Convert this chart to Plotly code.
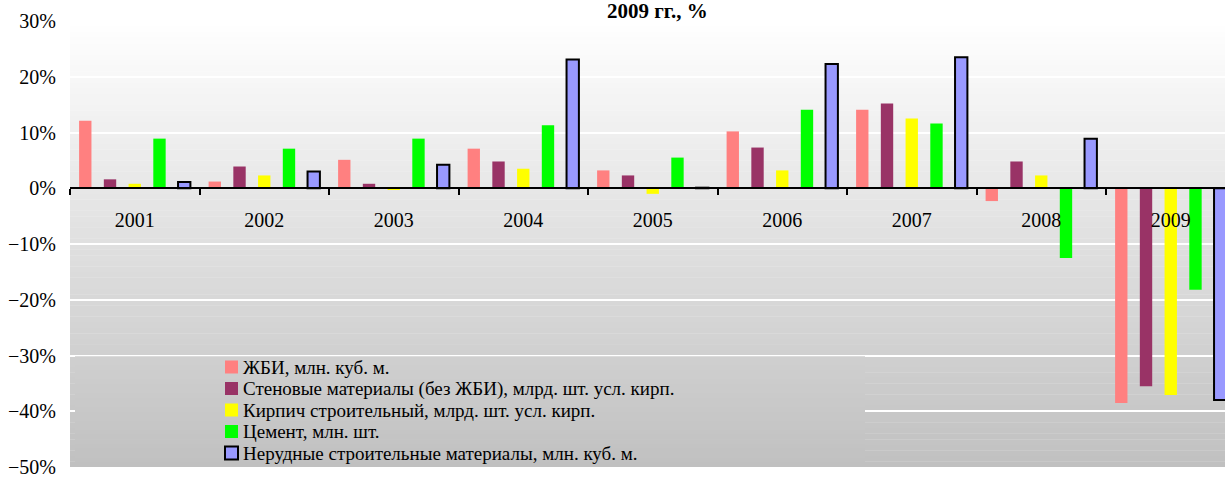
import plotly.graph_objects as go

years = ["2001", "2002", "2003", "2004", "2005", "2006", "2007", "2008", "2009"]

names = [
    "ЖБИ, млн. куб. м.",
    "Стеновые материалы (без ЖБИ), млрд. шт. усл. кирп.",
    "Кирпич строительный, млрд. шт. усл. кирп.",
    "Цемент, млн. шт.",
    "Нерудные строительные материалы, млн. куб. м.",
]

zhbi = [12.1, 1.2, 5.1, 7.1, 3.2, 10.2, 14.1, -2.3, -38.5]
stenovye = [1.6, 3.9, 0.8, 4.8, 2.3, 7.3, 15.2, 4.8, -35.5]
kirpich = [0.8, 2.3, -0.2, 3.5, -1.0, 3.2, 12.5, 2.3, -37.1]
cement = [8.9, 7.1, 8.9, 11.3, 5.5, 14.1, 11.6, -12.5, -18.2]
nerudnye = [1.1, 3.0, 4.2, 23.1, 0.1, 22.3, 23.5, 8.9, -38.0]

series = [zhbi, stenovye, kirpich, cement, nerudnye]
colors = ["#FF8080", "#993366", "#FFFF00", "#00FF00", "#9999FF"]
outline = [0, 0, 0, 0, 2]

W, H = 1225, 479
L, R, T, B = 70, 0, 21, 12
YMIN, YMAX = -50, 30
CAT_W = 129.5
FONT = "Liberation Serif, Times New Roman, serif"


def px_x(p):
    return (p - L) / (W - L - R)


def px_y(p):
    return (H - B - p) / (H - T - B)


def grey(v):
    # background gradient: white at top -> #c0c0c0 at bottom
    f = (YMAX - v) / (YMAX - YMIN)
    c = int(round(255 - f * 63))
    return f"rgb({c},{c},{c})"


fig = go.Figure()
for name, vals, col, lw in zip(names, series, colors, outline):
    fig.add_trace(go.Bar(
        x=years, y=vals, name=name,
        marker=dict(color=col, line=dict(color="black", width=lw)),
        showlegend=False,
    ))

shapes = []
# plot background gradient
n = 80
step = (YMAX - YMIN) / n
for i in range(n):
    y1 = YMAX - i * step
    shapes.append(dict(type="rect", xref="paper", yref="y", x0=0, x1=1,
                       y0=y1 - step - 0.05, y1=y1, fillcolor=grey(y1 - step / 2),
                       line_width=0, layer="below"))
# legend box (hides gridlines)
lx0 = (75 - L) / CAT_W - 0.5
lx1 = (865 - L) / CAT_W - 0.5
m = 24
top = -30.15
step2 = (top - YMIN) / m
for i in range(m):
    y1 = top - i * step2
    shapes.append(dict(type="rect", xref="x", yref="y", x0=lx0, x1=lx1,
                       y0=y1 - step2 - 0.05, y1=y1, fillcolor=grey(y1 - step2 / 2),
                       line_width=0, layer="between"))

annotations = []
# hand-made legend
for i, (name, col, lw) in enumerate(zip(names, colors, outline)):
    cy = 367 + 21.5 * i
    shapes.append(dict(type="rect", xref="paper", yref="paper",
                       x0=px_x(225), x1=px_x(238), y0=px_y(cy + 6.5), y1=px_y(cy - 6.5),
                       fillcolor=col, line=dict(color="black", width=lw if lw else 0),
                       layer="above"))
    annotations.append(dict(xref="paper", yref="paper", x=px_x(241), y=px_y(cy),
                            xanchor="left", yanchor="middle", text=name, showarrow=False,
                            font=dict(family=FONT, size=19, color="black")))

annotations.append(dict(xref="paper", yref="paper", x=px_x(658), y=px_y(11),
                        xanchor="center", yanchor="middle", text="<b>2009 гг., %</b>",
                        showarrow=False, font=dict(family=FONT, size=21, color="black")))

fig.update_layout(
    width=W, height=H,
    margin=dict(l=L, r=R, t=T, b=B, autoexpand=False),
    paper_bgcolor="white",
    plot_bgcolor="rgba(0,0,0,0)",
    barmode="group", bargap=0.045, bargroupgap=0.5,
    font=dict(family=FONT, size=20, color="black"),
    shapes=shapes,
    annotations=annotations,
    xaxis=dict(
        type="category",
        range=[-0.5, -0.5 + (W - L - R) / CAT_W],
        anchor="free", position=(0 - YMIN) / (YMAX - YMIN),
        showline=True, linecolor="black", linewidth=2,
        ticks="outside", tickson="boundaries", ticklen=6, tickwidth=2, tickcolor="black",
        ticklabelstandoff=14,
        showgrid=False, zeroline=False, automargin=False,
        tickfont=dict(family=FONT, size=20, color="black"),
    ),
    yaxis=dict(
        range=[YMIN, YMAX], dtick=10, ticksuffix="%",
        showgrid=True, gridcolor="white", gridwidth=1.5,
        zeroline=False, showline=False, ticks="",
        ticklabelstandoff=13, automargin=False, ticklabeloverflow="allow",
        tickfont=dict(family=FONT, size=20, color="black"),
    ),
)

fig.write_html("out.html", config={"displayModeBar": False},
               post_script="document.body.style.margin='0';")
